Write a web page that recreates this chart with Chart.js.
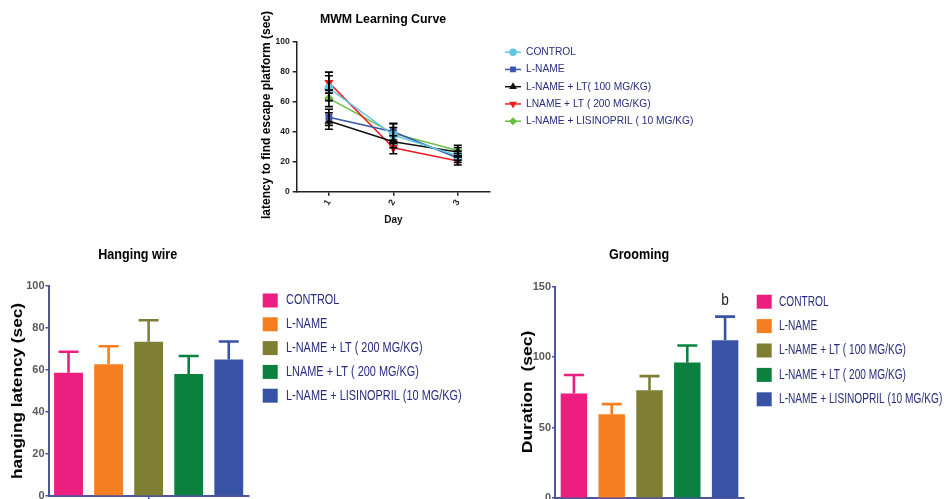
<!DOCTYPE html>
<html>
<head>
<meta charset="utf-8">
<title>MWM, hanging wire and grooming</title>
<script src="https://cdn.jsdelivr.net/npm/chart.js@4.4.1/dist/chart.umd.min.js"></script>
<style>
  body { margin: 0; background: #fff; }
  #page { position: relative; width: 944px; height: 499px; overflow: hidden; }
  canvas { position: absolute; }
  #mwm { left: 250px; top: 0; }
  #hang { left: 0; top: 240px; }
  #groom { left: 500px; top: 240px; }
</style>
</head>
<body>
<div id="page">
  <canvas id="mwm" width="480" height="235"></canvas>
  <canvas id="hang" width="500" height="259"></canvas>
  <canvas id="groom" width="444" height="259"></canvas>
</div>
<script>
// --- MWM learning curve (mean, sem per day)
const days = [1, 2, 3];
const mwmGroups = ["CONTROL", "L-NAME", "L-NAME + LT( 100 MG/KG)", "LNAME + LT ( 200 MG/KG)", "L-NAME + LISINOPRIL ( 10 MG/KG)"];
const mwmControl = [69, 37.8, 24];
const mwmLname = [49.6, 40, 22.5];
const mwmLt100 = [47.1, 33.3, 26.5];
const mwmLt200 = [72.7, 29.3, 20.5];
const mwmLisino = [62.2, 38.9, 27.5];
const mwmControlErr = [8.3, 5, 3];
const mwmLnameErr = [5.4, 5.5, 3];
const mwmLt100Err = [5.5, 4, 3];
const mwmLt200Err = [7, 4, 2.7];
const mwmLisinoErr = [5.5, 6.5, 3.5];
const mwmTicks = [0, 20, 40, 60, 80, 100];

// --- hanging wire
const hangGroups = ["CONTROL", "L-NAME", "L-NAME + LT ( 200 MG/KG)", "LNAME + LT ( 200 MG/KG)", "L-NAME + LISINOPRIL (10 MG/KG)"];
const hangMeans = [58.7, 62.7, 73.5, 58.1, 65];
const hangErr = [10, 8.6, 10.2, 8.6, 8.6];
const hangTicks = [0, 20, 40, 60, 80, 100];

// --- grooming
const groomGroups = ["CONTROL", "L-NAME", "L-NAME + LT ( 100 MG/KG)", "L-NAME + LT ( 200 MG/KG)", "L-NAME + LISINOPRIL (10 MG/KG)"];
const groomMeans = [74.3, 59.5, 76.6, 96.2, 112.1];
const groomErr = [13.1, 7.2, 10, 12.1, 16.7];
const groomMarks = ["", "", "", "", "b"];
const groomTicks = [0, 50, 100, 150];

const barColors = ["#ec1e7f", "#f47e20", "#7f7f34", "#0b803f", "#3953a4"];
const lineColors = ["#62c6e2", "#3a55ad", "#111111", "#ee1d23", "#6abd45"];
const lineMarkers = ["circle", "rect", "triangle", "triangle", "rectRot"];
const lineMarkerRot = [0, 0, 0, 180, 0];
const axisBlue = "#50549c";
const legendInk = "#2b2d7c";
const arial = "Arial, 'Liberation Sans', sans-serif";
const narrow = "'Liberation Sans Narrow', 'Arial Narrow', Arial, sans-serif";

function txt(ctx, s, x, y, o) {
  ctx.save();
  ctx.translate(x, y);
  if (o.rot) ctx.rotate(o.rot);
  ctx.scale(o.sx || 1, 1);
  ctx.font = o.font;
  ctx.fillStyle = o.color || "#000";
  ctx.textAlign = o.align || "left";
  ctx.textBaseline = o.base || "middle";
  ctx.fillText(s, 0, 0);
  ctx.restore();
}

// error bars, titles and legends drawn on top of the chart
const decor = {
  id: "decor",
  afterDatasetsDraw(chart, args, o) {
    const ctx = chart.ctx;
    const ys = chart.scales.y;
    chart.data.datasets.forEach((ds, i) => {
      if (!ds.errors) return;
      chart.getDatasetMeta(i).data.forEach((el, j) => {
        const raw = ds.data[j];
        const v = typeof raw === "object" ? raw.y : raw;
        const hi = ys.getPixelForValue(v + ds.errors[j]);
        const lo = o.bothWays ? ys.getPixelForValue(v - ds.errors[j]) : el.y;
        ctx.save();
        ctx.strokeStyle = o.errColor || ds.backgroundColor;
        ctx.lineWidth = o.errWidth;
        ctx.beginPath();
        ctx.moveTo(el.x, lo);
        ctx.lineTo(el.x, hi);
        ctx.moveTo(el.x - o.cap / 2, hi);
        ctx.lineTo(el.x + o.cap / 2, hi);
        if (o.bothWays) {
          ctx.moveTo(el.x - o.cap / 2, lo);
          ctx.lineTo(el.x + o.cap / 2, lo);
        }
        ctx.stroke();
        ctx.restore();
        if (ds.marks && ds.marks[j]) {
          txt(ctx, ds.marks[j], el.x, hi - 12, { font: "17px " + arial, sx: 0.8, align: "center", base: "alphabetic", color: "#222" });
        }
      });
    });
  },
  afterDraw(chart, args, o) {
    const ctx = chart.ctx;
    const t = o.title;
    txt(ctx, t.text, t.x, t.y, { font: t.font, sx: t.sx, align: "center", base: "alphabetic" });
    const yt = o.yTitle;
    txt(ctx, yt.text, yt.x, yt.y, { font: yt.font, sx: yt.sx, align: "center", rot: -Math.PI / 2 });
    const lg = o.legend;
    chart.data.datasets.forEach((ds, i) => {
      const cy = lg.y + i * lg.step;
      if (lg.kind === "box") {
        ctx.fillStyle = ds.backgroundColor;
        ctx.fillRect(lg.x, cy - 7, 15, 14);
      } else {
        ctx.save();
        ctx.strokeStyle = ds.borderColor;
        ctx.fillStyle = ds.borderColor;
        ctx.lineWidth = 1.5;
        ctx.beginPath();
        ctx.moveTo(lg.x, cy);
        ctx.lineTo(lg.x + 16, cy);
        ctx.stroke();
        Chart.helpers.drawPoint(ctx, { pointStyle: ds.pointStyle, rotation: ds.pointRotation, radius: 3, borderWidth: 1 }, lg.x + 8, cy);
        ctx.restore();
      }
      txt(ctx, ds.label, lg.tx, cy, { font: lg.font, sx: lg.sx, color: legendInk });
    });
  }
};

Chart.register(decor);

// ---------- MWM line chart
const mwmSeries = [mwmControl, mwmLname, mwmLt100, mwmLt200, mwmLisino];
const mwmErrs = [mwmControlErr, mwmLnameErr, mwmLt100Err, mwmLt200Err, mwmLisinoErr];

new Chart(document.getElementById("mwm"), {
  type: "line",
  data: {
    datasets: mwmSeries.map((vals, i) => ({
      label: mwmGroups[i],
      data: vals.map((v, j) => ({ x: days[j], y: v })),
      errors: mwmErrs[i],
      borderColor: lineColors[i],
      backgroundColor: lineColors[i],
      pointBackgroundColor: lineColors[i],
      pointBorderColor: lineColors[i],
      pointStyle: lineMarkers[i],
      pointRotation: lineMarkerRot[i],
      pointRadius: 3.8,
      borderWidth: 1.5,
      tension: 0
    }))
  },
  options: {
    responsive: false,
    animation: false,
    layout: { padding: { left: 0, top: 41.7, right: 240, bottom: 0 } },
    plugins: {
      legend: { display: false },
      tooltip: { enabled: false },
      decor: {
        bothWays: true, errColor: "#000", errWidth: 1.6, cap: 8,
        title: { text: "MWM Learning Curve", x: 133, y: 23, font: "bold 13px " + arial, sx: 0.95 },
        yTitle: { text: "latency to find escape platform (sec)", x: 17, y: 115, font: "bold 12px " + arial, sx: 1 },
        legend: { kind: "line", x: 255, tx: 276, y: 52.2, step: 17.25, font: "11px " + arial, sx: 0.93 }
      }
    },
    scales: {
      x: {
        type: "linear",
        min: 0.5,
        max: 3.5,
        afterBuildTicks: (s) => { s.ticks = days.map((v) => ({ value: v })); },
        afterFit: (s) => { s.height = 43.3; },
        grid: { drawOnChartArea: false, tickLength: 4, color: "#222", lineWidth: 1.5 },
        border: { color: "#222", width: 1.5 },
        ticks: { minRotation: 60, maxRotation: 60, padding: 2, color: "#222", font: { family: arial, size: 9, weight: "bold" } },
        title: { display: true, text: "Day", color: "#111", font: { family: arial, size: 10, weight: "bold" }, padding: { top: 0, bottom: 8.5 } }
      },
      y: {
        min: 0,
        max: 100,
        afterBuildTicks: (s) => { s.ticks = mwmTicks.map((v) => ({ value: v })); },
        afterFit: (s) => { s.width = 46.7; },
        grid: { drawOnChartArea: false, tickLength: 4, color: "#222", lineWidth: 1.5 },
        border: { color: "#222", width: 1.5 },
        ticks: { padding: 3, color: "#222", font: { family: arial, size: 8.5, weight: "bold" } }
      }
    }
  }
});

// ---------- bar charts
function barChart(id, groups, means, errs, marks, ticks, ymax, box) {
  return new Chart(document.getElementById(id), {
    type: "bar",
    data: {
      labels: [""],
      datasets: groups.map((g, i) => ({
        label: g,
        data: [means[i]],
        errors: [errs[i]],
        marks: marks ? [marks[i]] : null,
        backgroundColor: barColors[i],
        borderWidth: 0,
        barPercentage: box.barPct,
        categoryPercentage: 1
      }))
    },
    options: {
      responsive: false,
      animation: false,
      layout: { padding: { left: 0, top: box.top, right: box.right, bottom: 0 } },
      plugins: {
        legend: { display: false },
        tooltip: { enabled: false },
        decor: {
          bothWays: false, errWidth: 2.6, cap: 20,
          title: box.title,
          yTitle: box.yTitle,
          legend: box.legend
        }
      },
      scales: {
        x: {
          offset: true,
          afterFit: (s) => { s.height = box.xh; },
          grid: { offset: false, drawOnChartArea: false, tickLength: 6, color: axisBlue, lineWidth: 1.5 },
          border: { color: axisBlue, width: 2 },
          ticks: { display: false }
        },
        y: {
          min: 0,
          max: ymax,
          afterBuildTicks: (s) => { s.ticks = ticks.map((v) => ({ value: v })); },
          // the "0" label may hang below the plot, as in the original
          afterFit: (s) => { s.width = box.yw; s.paddingBottom = 0; },
          grid: { drawOnChartArea: false, tickLength: 3, color: axisBlue, lineWidth: 1.5 },
          border: { color: axisBlue, width: 2 },
          ticks: { padding: 1, color: "#5a5a5a", font: { family: narrow, size: 11, weight: "bold" } }
        }
      }
    }
  });
}

barChart("hang", hangGroups, hangMeans, hangErr, null, hangTicks, 100, {
  barPct: 0.72, top: 46, right: 251.2, xh: 3, yw: 48.5,
  title: { text: "Hanging wire", x: 137.7, y: 19, font: "bold 15px " + arial, sx: 0.84 },
  yTitle: { text: "hanging latency (sec)", x: 18.3, y: 151, font: "bold 14px " + arial, sx: 1.23 },
  legend: { kind: "box", x: 262.7, tx: 286, y: 300.5 - 240, step: 23.8, font: "14px " + arial, sx: 0.78 }
});

barChart("groom", groomGroups, groomMeans, groomErr, groomMarks, groomTicks, 150, {
  barPct: 0.7, top: 46.7, right: 200, xh: 0.8, yw: 55,
  title: { text: "Grooming", x: 139, y: 19, font: "bold 15px " + arial, sx: 0.84 },
  yTitle: { text: "Duration  (sec)", x: 28.5, y: 152, font: "bold 14px " + arial, sx: 1.25 },
  legend: { kind: "box", x: 256.7, tx: 279, y: 301.7 - 240, step: 24.4, font: "14px " + arial, sx: 0.725 }
});
</script>
</body>
</html>
